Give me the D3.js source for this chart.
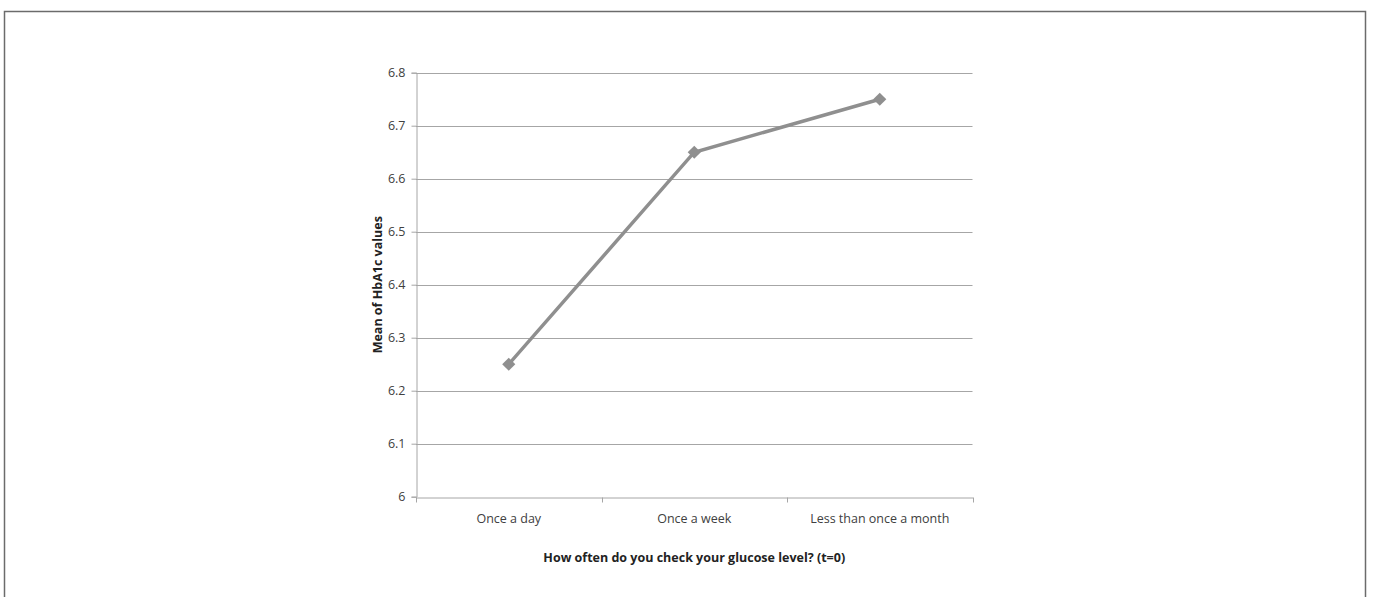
<!DOCTYPE html>
<html><head><meta charset="utf-8">
<script src="https://cdn.jsdelivr.net/npm/d3@7"></script>
<style>body{margin:0;background:#fff;}text{font-family:"Open Sans","DejaVu Sans",sans-serif;}</style>
</head><body>
<svg id="c" width="1373" height="597"></svg>
<script>
const categories = ["Once a day", "Once a week", "Less than once a month"];
const values = [6.25, 6.65, 6.75];
const yTicks = [6, 6.1, 6.2, 6.3, 6.4, 6.5, 6.6, 6.7, 6.8];
const yLabel = "Mean of HbA1c values";
const xLabel = "How often do you check your glucose level? (t=0)";

(function(){
const svg = d3.select("#c");
// frame
svg.append("path").attr("d","M4.5,600 V11.5 H1365.5 V600").attr("fill","none").attr("stroke","#6b6b6b").attr("stroke-width",1.5);

const pLeft = 416, pRight = 972.5, pTop = 72.7, pBottom = 496.7;
const x = d3.scaleBand().domain(categories).range([pLeft, pRight]).padding(0);
const y = d3.scaleLinear().domain([6, 6.8]).range([pBottom, pTop]);

// gridlines
svg.append("g").selectAll("line").data(yTicks.filter(t=>t>6)).join("line")
  .attr("x1", pLeft).attr("x2", pRight)
  .attr("y1", d=>Math.round(y(d))+0.5).attr("y2", d=>Math.round(y(d))+0.5)
  .attr("stroke","#a6a6a6").attr("stroke-width",1);

// y axis
const yAxis = svg.append("g").attr("transform",`translate(${pLeft+0.5},0)`)
  .call(d3.axisLeft(y).tickValues(yTicks).tickFormat(d3.format("~g")).tickSize(5).tickPadding(6));
yAxis.select(".domain").attr("stroke","#a6a6a6");
yAxis.selectAll(".tick line").attr("stroke","#a6a6a6");
yAxis.selectAll("text").attr("font-size",12.5).attr("fill","#404040");

// x axis
const xAxis = svg.append("g").attr("transform",`translate(0,${Math.round(pBottom)+0.5})`)
  .call(d3.axisBottom(x).tickSize(0).tickPadding(17));
xAxis.select(".domain").attr("stroke","#a6a6a6");
xAxis.selectAll("text").attr("font-size",12.5).attr("fill","#404040");
const bounds = [pLeft, ...categories.map(c=>x(c)+x.bandwidth())];
xAxis.selectAll(".bt").data(bounds).join("line").attr("class","bt")
  .attr("x1",d=>Math.round(d)+0.5).attr("x2",d=>Math.round(d)+0.5).attr("y1",0).attr("y2",5)
  .attr("stroke","#a6a6a6");

// line
const cx = c => x(c) + x.bandwidth()/2;
svg.append("path").datum(values)
  .attr("d", d3.line().x((d,i)=>cx(categories[i])).y(d=>y(d)))
  .attr("fill","none").attr("stroke","#8f8f8f").attr("stroke-width",3.5);
svg.append("g").selectAll("path").data(values).join("path")
  .attr("transform",(d,i)=>`translate(${cx(categories[i])},${y(d)})`)
  .attr("d", d3.symbol(d3.symbolDiamond2, 110)())
  .attr("fill","#8f8f8f");

// labels
svg.append("text").attr("transform",`translate(382,${(pTop+pBottom)/2}) rotate(-90)`)
  .attr("text-anchor","middle").attr("font-size",12.5).attr("font-weight","bold").attr("fill","#222")
  .text(yLabel);
svg.append("text").attr("x",(pLeft+pRight)/2).attr("y",562)
  .attr("text-anchor","middle").attr("font-size",12.5).attr("font-weight","bold").attr("fill","#222")
  .text(xLabel);
})();
</script>
</body></html>
